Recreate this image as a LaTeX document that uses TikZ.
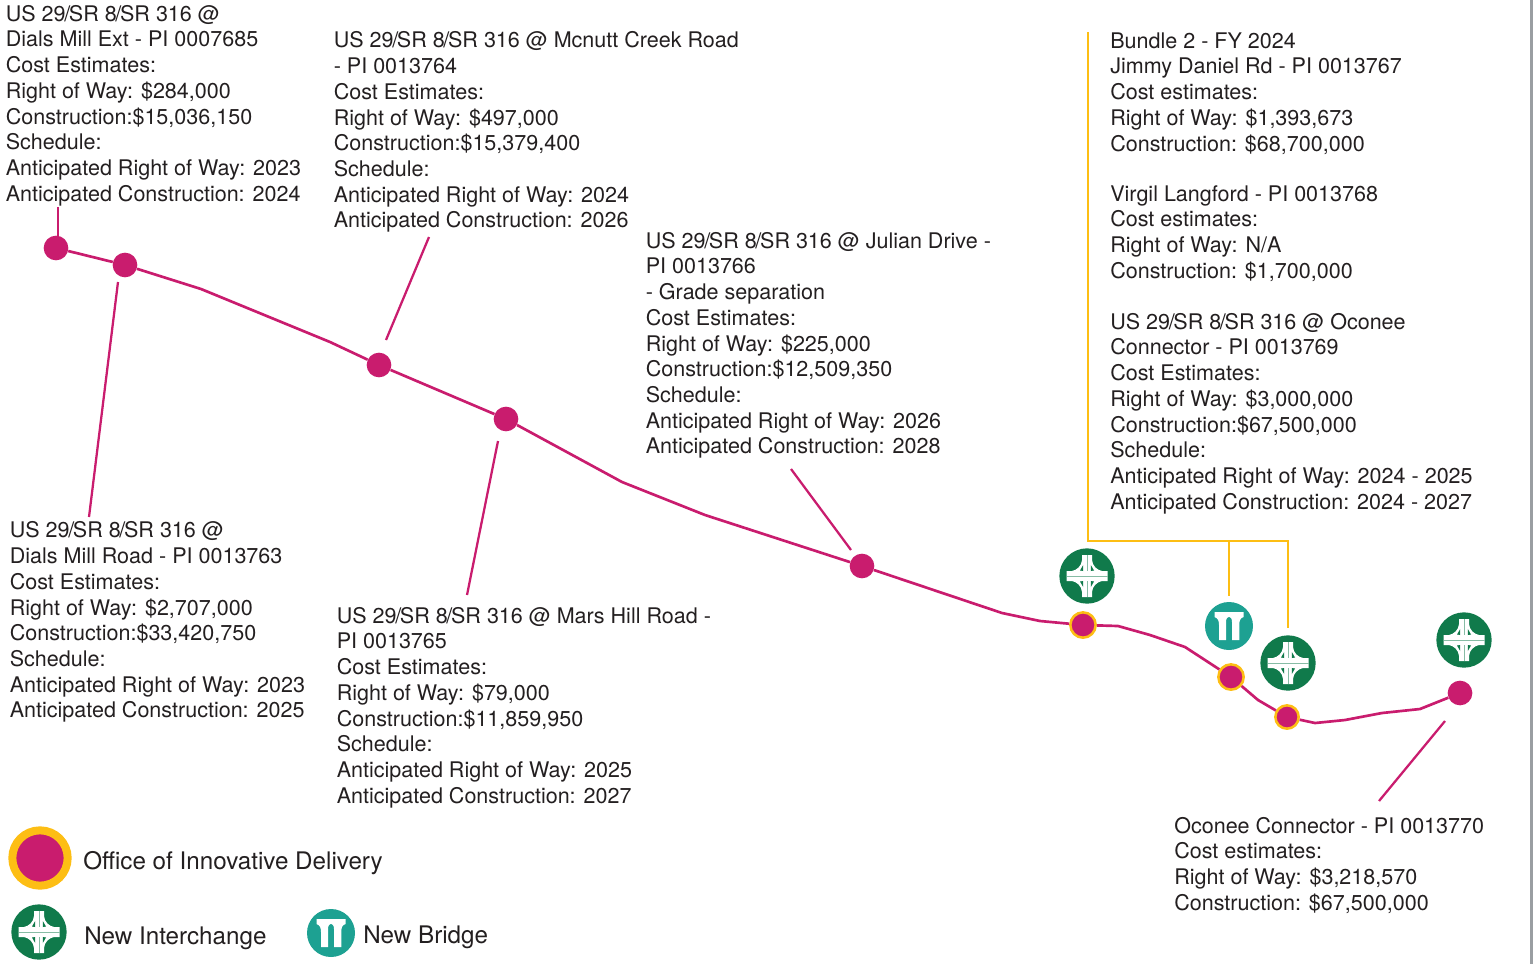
\documentclass[tikz,border=0pt]{standalone}
\usepackage{fontspec}
\setmainfont{TeX Gyre Heros}
\usepackage{xcolor}
\usetikzlibrary{calc,positioning}
\definecolor{routepink}{HTML}{C91C6E}
\definecolor{oidgold}{HTML}{FDBE14}
\definecolor{icongreen}{HTML}{107A4B}
\definecolor{iconteal}{HTML}{1DA192}
\definecolor{inktext}{HTML}{231F20}
\definecolor{edgegray}{HTML}{9A9EA2}
\newcommand{\usroute}{US 29\kern-1pt/\kern-1pt SR 8\kern-1pt/\kern-1pt SR 316}

\begin{document}
\begin{tikzpicture}[x=0.75pt,y=-0.75pt,
  blocktext/.style={anchor=north west, align=left, inner sep=0pt, text=inktext,
    font=\fontsize{16.15}{19.28}\selectfont},
  legendtext/.style={anchor=west, inner sep=0pt, text=inktext,
    font=\fontsize{18.15}{20}\selectfont},
  route/.style={routepink, line width=2pt, line join=round},
  leader/.style={routepink, line width=1.7pt},
  bracket/.style={oidgold, line width=2.2pt},
  stopdot/.style={circle, fill=routepink, inner sep=0pt, minimum size=18.5pt},
  oiddot/.style={circle, fill=routepink, draw=oidgold, line width=1.9pt, inner sep=0pt, minimum size=19pt},
  changeicon/.style={circle, fill=icongreen, inner sep=0pt, minimum size=41.5pt},
  bridgeicon/.style={circle, fill=iconteal, inner sep=0pt, minimum size=36pt},
  interchange/.pic={
    \fill[white] (-5,-21) -- (5,-21) -- (5,-16) .. controls (5.5,-10) and (10,-6) .. (15,-5)
      -- (20.5,-5) -- (20.5,5) -- (15,5) .. controls (10,6) and (5.5,10) .. (5,16)
      -- (5,21) -- (-5,21) -- (-5,16) .. controls (-5.5,10) and (-10,6) .. (-15,5)
      -- (-20.5,5) -- (-20.5,-5) -- (-15,-5) .. controls (-10,-6) and (-5.5,-10) .. (-5,-16) -- cycle;
    \draw[icongreen!50, line width=0.4pt] (-20.5,0) -- (20.5,0) (0,-21) -- (0,-5) (0,5) -- (0,21);
    \foreach \sx in {-1,1} \foreach \sy in {-1,1} {
      \fill[icongreen] (3.8*\sx,5*\sy) -- (3.8*\sx,11*\sy) -- (7*\sx,5.5*\sy) -- cycle;
    }
  },
  pillars/.pic={
    \fill[white] (-14.5,-14) -- (14.5,-14) -- (14.5,-9) .. controls (11,-8) and (10.3,-5) .. (10.3,-1)
      -- (10.3,14) -- (3,14) -- (3,-4) .. controls (3,-11) and (-3,-11) .. (-3,-4)
      -- (-3,14) -- (-10,14) -- (-10,-1) .. controls (-10,-5) and (-11,-8) .. (-14.5,-9) -- cycle;
  }
]
\useasboundingbox (0,0) rectangle (1533,964);
\fill[edgegray] (1530,0) rectangle (1533,964);
% ── Bends of the route ───────────────────────────
\foreach \n/\x/\y in {r1/201/289, r2/330/342, r3/622/482, r4/705/515, r5/1002/613,
  r6/1040/621, r7/1118/626, r8/1150/635, r9/1185/647, r10/1258/700, r11/1315/723,
  r12/1345/720, r13/1382/713, r14/1420/709} {
  \coordinate (\n) at (\x,\y);
}
% ── Stops ────────────────────────────────────────
\node[stopdot] (dialsext) at (56,248) {};
\node[stopdot] (dialsmill) at (125,265) {};
\node[stopdot] (mcnutt) at (379,365) {};
\node[stopdot] (marshill) at (506,419) {};
\node[stopdot] (julian) at (862,566) {};
\node[oiddot] (jimmy) at (1083,625) {};
\node[oiddot] (virgil) at (1231,677) {};
\node[oiddot, minimum size=17.5pt] (oconee) at (1287,717) {};
\node[stopdot] (connector) at (1460,693) {};
\draw[route] (dialsext) -- (dialsmill) -- (r1) -- (r2) -- (mcnutt) -- (marshill) -- (r3) -- (r4)
  -- (julian) -- (r5) -- (r6) -- (jimmy) -- (r7) -- (r8) -- (r9) -- (virgil) -- (r10)
  -- (oconee) -- (r11) -- (r12) -- (r13) -- (r14) -- (connector);
% ── Text blocks ──────────────────────────────────
\node[blocktext] (txtdialsext) at (5.5,3) {\strut \usroute{} @\\Dials Mill Ext - PI 0007685\\Cost Estimates:\\Right of Way: \$284,000\\Construction:\$15,036,150\\Schedule:\\Anticipated Right of Way: 2023\\Anticipated Construction: 2024};
\node[blocktext] (txtmcnutt) at (333.5,29.7) {\strut \usroute{} @ Mcnutt Creek Road\\- PI 0013764\\Cost Estimates:\\Right of Way: \$497,000\\Construction:\$15,379,400\\Schedule:\\Anticipated Right of Way: 2024\\Anticipated Construction: 2026};
\node[blocktext] (txtjulian) at (645.5,230) {\strut \usroute{} @ Julian Drive -\\PI 0013766\\- Grade separation\\Cost Estimates:\\Right of Way: \$225,000\\Construction:\$12,509,350\\Schedule:\\Anticipated Right of Way: 2026\\Anticipated Construction: 2028};
\node[blocktext] (txtdialsmill) at (9.5,519.7) {\strut \usroute{} @\\Dials Mill Road - PI 0013763\\Cost Estimates:\\Right of Way: \$2,707,000\\Construction:\$33,420,750\\Schedule:\\Anticipated Right of Way: 2023\\Anticipated Construction: 2025};
\node[blocktext] (txtmarshill) at (336.5,605) {\strut \usroute{} @ Mars Hill Road -\\PI 0013765\\Cost Estimates:\\Right of Way: \$79,000\\Construction:\$11,859,950\\Schedule:\\Anticipated Right of Way: 2025\\Anticipated Construction: 2027};
\node[blocktext] (txtjimmy) at (1110,30) {\strut Bundle 2 - FY 2024\\Jimmy Daniel Rd - PI 0013767\\Cost estimates:\\Right of Way: \$1,393,673\\Construction: \$68,700,000};
\node[blocktext] (txtvirgil) at (1110,183) {\strut Virgil Langford - PI 0013768\\Cost estimates:\\Right of Way: N/A\\Construction: \$1,700,000};
\node[blocktext] (txtoconee) at (1110,311) {\strut \usroute{} @ Oconee\\Connector - PI 0013769\\Cost Estimates:\\Right of Way: \$3,000,000\\Construction:\$67,500,000\\Schedule:\\Anticipated Right of Way: 2024 - 2025\\Anticipated Construction: 2024 - 2027};
\node[blocktext] (txtconnector) at (1174,815) {\strut Oconee Connector - PI 0013770\\Cost estimates:\\Right of Way: \$3,218,570\\Construction: \$67,500,000};
% ── Leaders ──────────────────────────────────────
\foreach \n/\xa/\ya/\xb/\yb in {la/58/207/58/240, lb/118/282/89/517, lc/429/237/386/340,
  ld/498/441/467/595, le/791/469/851/550, lf/1445/721/1379/801} {
  \coordinate (\n1) at (\xa,\ya);
  \coordinate (\n2) at (\xb,\yb);
  \draw[leader] (\n1) -- (\n2);
}
% ── Bracket from the bundle text ─────────────────
\coordinate (brtop) at (1088,32);
\coordinate (brcorner) at (1088,541);
\coordinate (brright) at (1288,541);
\coordinate (brmid) at (1229,541);
\node[bridgeicon] (bridgeone) at (1229,626) {};
\node[changeicon] (changeone) at (1087,576) {};
\node[changeicon] (changetwo) at (1288,663) {};
\node[changeicon] (changethree) at (1464,640) {};
\coordinate (brmidend) at (1229,596);
\coordinate (brrightend) at (1288,628);
\draw[bracket] (brtop) -- (brcorner) -- (brright) -- (brrightend);
\draw[bracket] (brmid) -- (brmidend);
\pic at (changeone) {interchange};
\pic at (changetwo) {interchange};
\pic at (changethree) {interchange};
\pic at (bridgeone) {pillars};
% ── Legend ───────────────────────────────────────
\node[circle, fill=routepink, draw=oidgold, line width=6pt, inner sep=0pt, minimum size=41.5pt] (keyoid) at (40,858) {};
\node[changeicon] (keychange) at (39,932) {};
\node[bridgeicon] (keybridge) at (331,933) {};
\pic at (keychange) {interchange};
\pic at (keybridge) {pillars};
\node[legendtext] (txtkeyoid) at (83,863) {Office of Innovative Delivery};
\node[legendtext] (txtkeychange) at (84,938.5) {New Interchange};
\node[legendtext] (txtkeybridge) at (363,937.5) {New Bridge};
\end{tikzpicture}
\end{document}
